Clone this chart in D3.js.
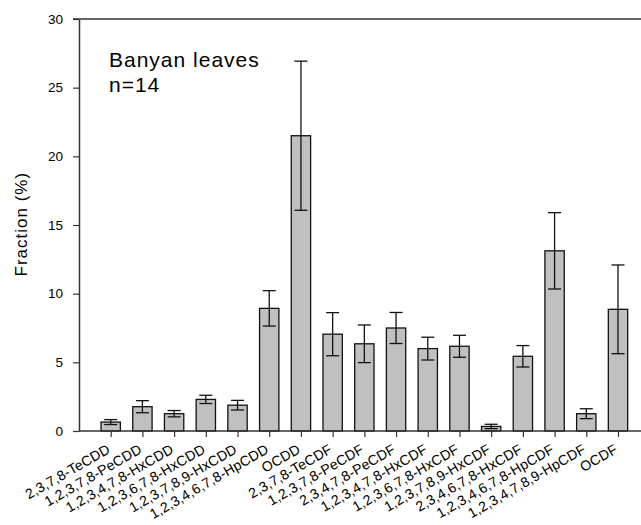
<!DOCTYPE html>
<html>
<head>
<meta charset="utf-8">
<script src="https://cdn.jsdelivr.net/npm/d3@7/dist/d3.min.js"></script>
<style>
  html, body { margin: 0; padding: 0; background: #fff; }
  text { font-family: "Liberation Sans", Arial, sans-serif; fill: #000; }
</style>
</head>
<body>
<svg id="chart" width="641" height="525"></svg>
<script>
const categories = [
  "2,3,7,8-TeCDD", "1,2,3,7,8-PeCDD", "1,2,3,4,7,8-HxCDD", "1,2,3,6,7,8-HxCDD",
  "1,2,3,7,8,9-HxCDD", "1,2,3,4,6,7,8-HpCDD", "OCDD", "2,3,7,8-TeCDF",
  "1,2,3,7,8-PeCDF", "2,3,4,7,8-PeCDF", "1,2,3,4,7,8-HxCDF", "1,2,3,6,7,8-HxCDF",
  "1,2,3,7,8,9-HxCDF", "2,3,4,6,7,8-HxCDF", "1,2,3,4,6,7,8-HpCDF", "1,2,3,4,7,8,9-HpCDF",
  "OCDF"
];
const values = [0.65, 1.77, 1.26, 2.30, 1.88, 8.93, 21.5, 7.05, 6.35, 7.50, 6.00, 6.17, 0.33, 5.44, 13.12, 1.26, 8.86];
const errors = [0.18, 0.44, 0.23, 0.30, 0.35, 1.29, 5.43, 1.57, 1.37, 1.13, 0.83, 0.80, 0.16, 0.78, 2.78, 0.36, 3.23];
const yTicks = [0, 5, 10, 15, 20, 25, 30];
const yLabel = "Fraction (%)";
const annotation = ["Banyan leaves", "n=14"];

const svg = d3.select("#chart");
const mLeft = 79, mRight = 641, mTop = 19, mBottom = 431;

const y = d3.scaleLinear().domain([0, 30]).range([mBottom, mTop]);
const x = d3.scalePoint().domain(categories).range([mLeft, 649.7]).padding(1);
const barW = x.step() * 0.61;
const capW = 13;

// bars
svg.append("g").selectAll("rect").data(categories).join("rect")
  .attr("x", d => x(d) - barW / 2)
  .attr("y", (d, i) => y(values[i]))
  .attr("width", barW)
  .attr("height", (d, i) => y(0) - y(values[i]))
  .attr("fill", "#c0c0c0")
  .attr("stroke", "#111")
  .attr("stroke-width", 1.3);

// error bars
const eb = svg.append("g").attr("stroke", "#111").attr("stroke-width", 1.3);
categories.forEach((c, i) => {
  const cx = x(c), hi = y(values[i] + errors[i]), lo = y(values[i] - errors[i]);
  eb.append("line").attr("x1", cx).attr("x2", cx).attr("y1", hi).attr("y2", lo);
  eb.append("line").attr("x1", cx - capW / 2).attr("x2", cx + capW / 2).attr("y1", hi).attr("y2", hi);
  eb.append("line").attr("x1", cx - capW / 2).attr("x2", cx + capW / 2).attr("y1", lo).attr("y2", lo);
});

// y axis
const yAxis = svg.append("g").attr("transform", `translate(${mLeft},0)`)
  .call(d3.axisLeft(y).tickValues(yTicks).tickSize(6).tickPadding(10).tickSizeOuter(0));
yAxis.select(".domain").attr("stroke", "#333").attr("stroke-width", 1.5);
yAxis.selectAll(".tick line").attr("stroke", "#333").attr("stroke-width", 1.2);
yAxis.selectAll(".tick text").attr("font-size", 13.5).attr("font-family", "Liberation Sans, Arial, sans-serif").attr("fill", "#000");

// top border
svg.append("line").attr("x1", mLeft - 6).attr("x2", mRight).attr("y1", y(30)).attr("y2", y(30))
  .attr("stroke", "#333").attr("stroke-width", 1.5);

// x axis
const xAxis = svg.append("g").attr("transform", `translate(0,${mBottom})`)
  .call(d3.axisBottom(x).tickSize(6).tickSizeOuter(0));
xAxis.select(".domain").attr("d", `M${mLeft},0H${mRight}`).attr("stroke", "#333").attr("stroke-width", 1.5);
xAxis.selectAll(".tick line").attr("stroke", "#333").attr("stroke-width", 1.2);
xAxis.selectAll(".tick text")
  .attr("font-size", 14)
  .attr("font-family", "Liberation Sans, Arial, sans-serif")
  .attr("fill", "#000")
  .attr("text-anchor", "end")
  .attr("dy", 0)
  .attr("y", 0)
  .attr("transform", "translate(0,21) rotate(-30)")
  .style("letter-spacing", "0.2px");

// y label
svg.append("text")
  .attr("transform", `translate(27,${(171.7 + 276.7) / 2}) rotate(-90)`)
  .attr("text-anchor", "middle")
  .attr("font-size", 17)
  .style("letter-spacing", "1px")
  .text(yLabel);

// annotation
svg.append("text").attr("x", 109).attr("y", 67).attr("font-size", 21).style("letter-spacing", "1px").text(annotation[0]);
svg.append("text").attr("x", 109).attr("y", 92).attr("font-size", 21).style("letter-spacing", "1px").text(annotation[1]);
</script>
</body>
</html>
